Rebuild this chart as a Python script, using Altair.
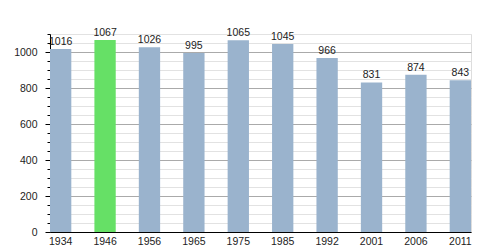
import altair as alt
import pandas as pd

years = ["1934", "1946", "1956", "1965", "1975", "1985", "1992", "2001", "2006", "2011"]
population = [1016, 1067, 1026, 995, 1065, 1045, 966, 831, 874, 843]
highlight = ["no", "yes", "no", "no", "no", "no", "no", "no", "no", "no"]
y_ticks = list(range(0, 1101, 50))

df = pd.DataFrame({"year": years, "pop": population, "hl": highlight})

x = alt.X("year:N", sort=years, title=None,
          scale=alt.Scale(paddingInner=0.52, paddingOuter=0),
          axis=alt.Axis(labelAngle=0, ticks=False, domainColor="#000000",
                        labelFont="Liberation Sans", labelFontSize=10.5,
                        labelColor="#222222", labelPadding=4, grid=False))

y = alt.Y("pop:Q", title=None,
          scale=alt.Scale(domain=[0, 1100], nice=False, zero=True),
          axis=alt.Axis(values=y_ticks,
                        labelExpr="datum.value % 200 === 0 ? datum.label : ''",
                        labelOverlap=False, labelFlush=False,
                        labelFont="Liberation Sans", labelFontSize=10.5,
                        labelColor="#222222", labelPadding=8,
                        domainColor="#000000", tickColor="#000000",
                        tickSize={"condition": {"test": "datum.value % 200 === 0", "value": 5}, "value": 3},
                        grid=True,
                        gridColor={"condition": {"test": "datum.value % 200 === 0", "value": "#aaaaaa"}, "value": "#e2e2e2"},
                        gridWidth=1, format="d"))

base = alt.Chart(df).encode(x=x, y=y)

bars = base.mark_bar().encode(
    color=alt.Color("hl:N", scale=alt.Scale(domain=["no", "yes"], range=["#9ab3cd", "#66e066"]), legend=None),
)

labels = base.mark_text(baseline="alphabetic", dy=-4, font="Liberation Sans", fontSize=10.5,
                        color="#222222").encode(text="pop:Q")

chart = alt.layer(bars, labels).properties(
    width=421, height=198,
    autosize=alt.AutoSizeParams(type="none"),
    padding={"left": 50, "top": 34, "right": 29, "bottom": 18},
).configure_view(stroke=None).configure(background="#ffffff")

chart.save("out.html", embed_options={"renderer": "svg", "actions": False})
